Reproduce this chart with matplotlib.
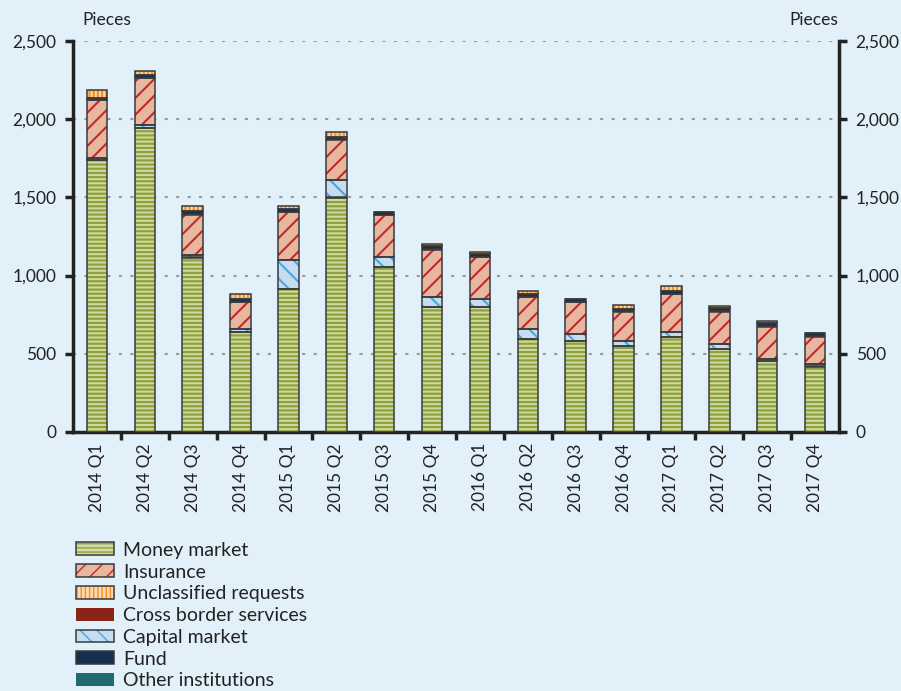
import numpy as np
import matplotlib.pyplot as plt
from matplotlib.patches import Patch
from matplotlib.legend_handler import HandlerTuple
from matplotlib.ticker import FuncFormatter

plt.rcParams['font.family'] = ['Lato', 'DejaVu Sans']

quarters = ['2014 Q1', '2014 Q2', '2014 Q3', '2014 Q4',
            '2015 Q1', '2015 Q2', '2015 Q3', '2015 Q4',
            '2016 Q1', '2016 Q2', '2016 Q3', '2016 Q4',
            '2017 Q1', '2017 Q2', '2017 Q3', '2017 Q4']

money_market = [1739, 1942, 1115, 641, 914, 1498, 1053, 801, 797, 593, 582, 550, 609, 529, 454, 418]
other_inst   = [2, 2, 2, 1, 2, 2, 1, 1, 1, 1, 1, 1, 1, 1, 1, 1]
capital_mkt  = [11, 16, 17, 18, 186, 113, 64, 64, 53, 66, 43, 32, 32, 34, 11, 17]
insurance    = [368, 303, 255, 172, 302, 255, 269, 299, 267, 202, 204, 187, 240, 206, 208, 174]
cross_border = [3, 3, 3, 2, 3, 3, 2, 2, 2, 2, 2, 2, 2, 2, 2, 2]
fund         = [15, 17, 22, 17, 17, 17, 19, 21, 21, 21, 21, 17, 17, 21, 21, 22]
unclassified = [49, 25, 28, 34, 18, 30, 0, 15, 11, 15, 0, 20, 31, 15, 15, 0]

bg = '#e2f0f9'
edge = '#3a3a3a'

# name, values, face, hatch, hatch colour, outlined
series = [
    ('Money market', money_market, '#d0daa6', '----', '#8ea23a', True),
    ('Other institutions', other_inst, '#1f6b6e', None, None, False),
    ('Capital market', capital_mkt, '#c4ddf1', '\\\\', '#4aa6dc', True),
    ('Insurance', insurance, '#e8b7a0', '//', '#c3282c', True),
    ('Cross border services', cross_border, '#8a2318', None, None, False),
    ('Fund', fund, '#15304f', None, None, True),
    ('Unclassified requests', unclassified, '#fcd9b0', '||||', '#f7901e', True),
]

fig = plt.figure(figsize=(9.01, 6.91), dpi=100, facecolor=bg)
ax = fig.add_axes([73/901, 1-432/691, (839-73)/901, (432-41)/691])
ax.set_facecolor(bg)

x = np.arange(len(quarters))
w = 0.43
bottom = np.zeros(len(quarters))
handles = {}
for name, vals, face, hatch, hcol, outlined in series:
    vals = np.array(vals, dtype=float)
    hlw = 1.6 if hatch in ('----', '||||') else 1.5
    with plt.rc_context({'hatch.linewidth': hlw}):
        ax.bar(x, vals, w, bottom=bottom, color=face, hatch=hatch,
               edgecolor=hcol if hcol else face, linewidth=0, zorder=3)
        p1 = Patch(facecolor=face, hatch=hatch, edgecolor=hcol if hcol else face, linewidth=0)
    if outlined:
        ax.bar(x, vals, w, bottom=bottom, fill=False, edgecolor=edge,
               linewidth=1.1, zorder=4)
        p2 = Patch(fill=False, edgecolor=edge, linewidth=1.1)
        handles[name] = (p1, p2)
    else:
        handles[name] = (p1,)
    bottom += vals

ax.set_xlim(-0.5, len(quarters) - 0.5)
ax.set_ylim(0, 2500)
ax.set_yticks(np.arange(0, 2501, 500))
ax.yaxis.set_major_formatter(FuncFormatter(lambda v, p: f'{int(v):,}'))
ax.tick_params(axis='y', which='both', left=True, right=True, labelleft=True,
               labelright=True, direction='out', length=6, width=2.5,
               labelsize=12.5, colors='#222222', pad=6)
ax.set_xticks(x)
ax.set_xticklabels(quarters, rotation=90, fontsize=12.5, color='#222222')
ax.set_xticks(np.arange(0.5, len(quarters) - 0.5, 1), minor=True)
ax.tick_params(axis='x', which='major', length=0, pad=8)
ax.tick_params(axis='x', which='minor', length=6, width=2.5, direction='out', color='#222222')
for v in range(500, 2501, 500):
    ax.axhline(v, color='#9a9a9a', linestyle=(0, (1.5, 4)), linewidth=1.5, zorder=1)

for s in ['left', 'right', 'bottom']:
    ax.spines[s].set_linewidth(2.5)
    ax.spines[s].set_color('#222222')
ax.spines['top'].set_visible(False)

fig.text(82/901, 1-20/691, 'Pieces', fontsize=12.5, color='#222222', va='center', ha='left')
fig.text(838/901, 1-20/691, 'Pieces', fontsize=12.5, color='#222222', va='center', ha='right')

order = ['Money market', 'Insurance', 'Unclassified requests', 'Cross border services',
         'Capital market', 'Fund', 'Other institutions']
fig.legend([handles[n] for n in order], order,
           handler_map={tuple: HandlerTuple(ndivide=1, pad=0)},
           loc='upper left', bbox_to_anchor=(68/901, 1-534/691), frameon=False,
           fontsize=14, handlelength=1.95, handleheight=0.65, labelspacing=0.245,
           handletextpad=0.5, borderaxespad=0, labelcolor='#222222')

fig.savefig('out.png', dpi=100, facecolor=bg)
